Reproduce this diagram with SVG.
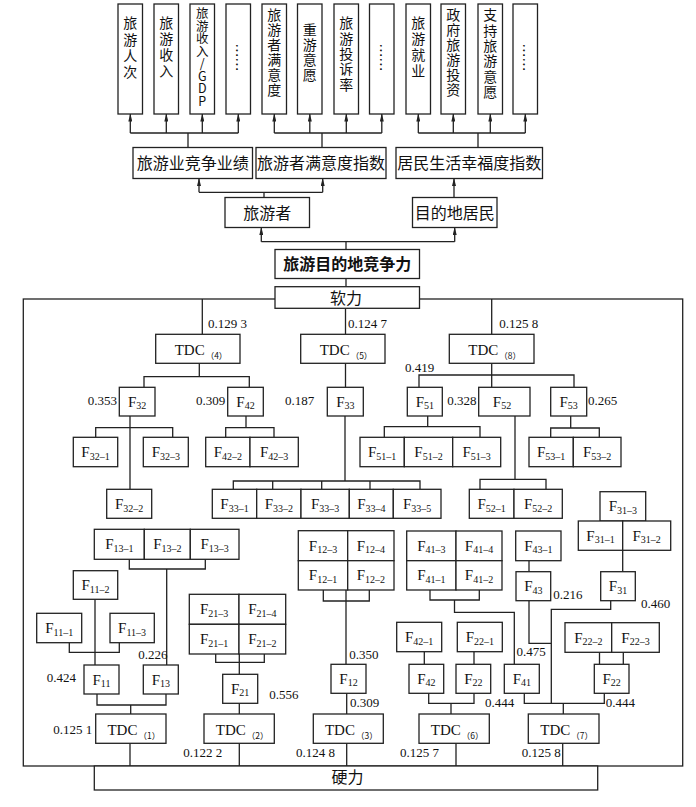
<svg xmlns="http://www.w3.org/2000/svg" width="696" height="807" viewBox="0 0 696 807">
<style>
.b{fill:#fff;stroke:#222;stroke-width:1.3}
.l{fill:none;stroke:#222;stroke-width:1.3}
.a{fill:none;stroke:#222;stroke-width:1.3;marker-end:url(#ar)}
.cn{font-family:"Noto Sans CJK SC",sans-serif;font-size:16px;fill:#111;text-anchor:middle}
.cv{font-family:"Noto Sans CJK SC",sans-serif;font-size:14px;fill:#111;writing-mode:vertical-rl;text-orientation:upright}
.dt{font-family:"Noto Sans CJK SC",sans-serif;font-size:14px;fill:#111;text-anchor:middle;dominant-baseline:central}
.f{font-family:"Liberation Serif",serif;font-size:15px;fill:#111;text-anchor:middle}
.s{font-size:10px}
.t{font-family:"Liberation Serif",serif;font-size:15px;fill:#111;text-anchor:middle}
.ts{font-family:"Noto Sans CJK SC",sans-serif;font-size:8.5px}
.n{font-family:"Liberation Serif",serif;font-size:13px;fill:#111}
</style>
<defs>
<marker id="ar" markerUnits="userSpaceOnUse" markerWidth="8" markerHeight="4" refX="7.5" refY="2" orient="auto"><path d="M0,0L8,2L0,4z" fill="#222"/></marker>
</defs>
<g id="connectors">
<rect class="l" x="23.3" y="299" width="659.4" height="467"/>
<path class="l" d="M130.3,133H238.3M188,133V147.5M274.3,133H381.8M322,133V147.5M418.3,133H525.3M478,133V147.5"/>
<path class="a" d="M130.3,133V114"/><path class="a" d="M166.3,133V114"/><path class="a" d="M202.3,133V114"/><path class="a" d="M238.3,133V114"/>
<path class="a" d="M274.3,133V114"/><path class="a" d="M309.8,133V114"/><path class="a" d="M346.3,133V114"/><path class="a" d="M381.8,133V114"/>
<path class="a" d="M418.3,133V114"/><path class="a" d="M453.3,133V114"/><path class="a" d="M490.3,133V114"/><path class="a" d="M525.3,133V114"/>
<path class="l" d="M199,192.3H322.7M264,192.3V197.5"/>
<path class="a" d="M199,192.3V178.5"/><path class="a" d="M322.7,192.3V178.5"/><path class="a" d="M454,197.5V178.5"/>
<path class="l" d="M261.3,241.7H454.7M346,241.7V249.5M346,278.5V286.7"/>
<path class="a" d="M261.3,241.7V227.5"/><path class="a" d="M454.7,241.7V227.5"/>
<path class="l" d="M202.3,299V334.3M345.5,308.3V334.3M491.7,299V334.3"/>
<path class="l" d="M199.3,363.3V376.7M144,387.3V376.7H249.3V387.3M130,416V489.3M95.7,437.3V427.7H172.7V437.3M246,416V427.7M225.7,437.3V427.7H274V437.3"/>
<path class="l" d="M345.5,363.3V387.3M345,416V481M233.3,489.3V481H420V489.3M272.7,481V489.3M321.7,481V489.3M370,481V489.3"/>
<path class="l" d="M491.7,363.3V387.3M419,387.3V375H574V387.3M427.7,416V426.7M384.3,437.3V426.7H480V437.3M570.7,416V428M550.7,437.3V428H599.3V437.3M515,416V479.3M480,489.3V479.3H546V489.3"/>
<path class="l" d="M622.7,550.3V571.7M610.7,600.7V609.3H551.3V703.3M529,560.7V571.7M529,600.7V643.3H551.3"/>
<path class="l" d="M430,590V600H479.3V590M454.5,600V612.3H514.3V664.3M424.3,651.7V664.3M474,651.7V664.3"/>
<path class="l" d="M428.7,693.3V703.3H474V693.3M451,703.3V714M456,743.3V766M524.3,693.3V703.3H604.3V693.3M563.3,703.3V714M562.7,743.3V766M599.5,652.3V664.3M623.3,652.3V664.3"/>
<path class="l" d="M323.3,590V601H369.3V590M346,590V664.3M346.7,693.3V714M346.7,743.3V766"/>
<path class="l" d="M129.3,559.3V569H205.3V559.3M166.7,569V665M95,599.3V665M69.3,642.7V652.3H119.3V642.7M97,694V705H166V694M130.7,705V714M130,743.3V766"/>
<path class="l" d="M215.7,654V662.3H264.3V654M239.3,654V674.3M239.3,703.3V714M239.3,743.3V766"/>
</g>
<g id="labels">
<text class="n" x="208" y="328">0.129 3</text>
<text class="n" x="348" y="328">0.124 7</text>
<text class="n" x="499.3" y="328">0.125 8</text>
<text class="n" x="405" y="371.5">0.419</text>
<text class="n" x="87.7" y="405">0.353</text>
<text class="n" x="196" y="405">0.309</text>
<text class="n" x="285" y="405">0.187</text>
<text class="n" x="447.3" y="405">0.328</text>
<text class="n" x="588" y="405">0.265</text>
<text class="n" x="553.3" y="599.3">0.216</text>
<text class="n" x="641" y="608">0.460</text>
<text class="n" x="516.5" y="656">0.475</text>
<text class="n" x="349.3" y="659">0.350</text>
<text class="n" x="138.3" y="659">0.226</text>
<text class="n" x="46.7" y="682">0.424</text>
<text class="n" x="269.3" y="699.3">0.556</text>
<text class="n" x="350" y="707">0.309</text>
<text class="n" x="485" y="707">0.444</text>
<text class="n" x="605.7" y="707">0.444</text>
<text class="n" x="53.3" y="734">0.125 1</text>
<text class="n" x="183.3" y="757">0.122 2</text>
<text class="n" x="296" y="757">0.124 8</text>
<text class="n" x="400" y="757">0.125 7</text>
<text class="n" x="521.7" y="757">0.125 8</text>
</g>
<g id="ind1"><rect class="b" x="118" y="4" width="24.5" height="110"/><text class="cv" x="130.3" y="16" letter-spacing="2.3">旅游人次</text></g>
<g id="ind2"><rect class="b" x="154" y="4" width="24.5" height="110"/><text class="cv" x="166.3" y="16" letter-spacing="2">旅游收入</text></g>
<g id="ind3"><rect class="b" x="190" y="4" width="24.5" height="110"/><text class="cv" x="202.3" y="7" style="font-size:12.5px">旅游收入/GDP</text></g>
<g id="ind4"><rect class="b" x="226" y="4" width="24.5" height="110"/><text class="dt" x="238.3" y="57.5" transform="rotate(90 238.3 57.5)">……</text></g>
<g id="ind5"><rect class="b" x="262" y="4" width="24.5" height="110"/><text class="cv" x="274.3" y="8" letter-spacing="1">旅游者满意度</text></g>
<g id="ind6"><rect class="b" x="297.5" y="4" width="24.5" height="110"/><text class="cv" x="309.8" y="22.5" letter-spacing="1">重游意愿</text></g>
<g id="ind7"><rect class="b" x="334" y="4" width="24.5" height="110"/><text class="cv" x="346.3" y="16" letter-spacing="1.3">旅游投诉率</text></g>
<g id="ind8"><rect class="b" x="369.5" y="4" width="24.5" height="110"/><text class="dt" x="381.8" y="57.5" transform="rotate(90 381.8 57.5)">……</text></g>
<g id="ind9"><rect class="b" x="406" y="4" width="24.5" height="110"/><text class="cv" x="418.3" y="16" letter-spacing="2">旅游就业</text></g>
<g id="ind10"><rect class="b" x="441" y="4" width="24.5" height="110"/><text class="cv" x="453.3" y="8" letter-spacing="1">政府旅游投资</text></g>
<g id="ind11"><rect class="b" x="478" y="4" width="24.5" height="110"/><text class="cv" x="490.3" y="8" letter-spacing="1.3">支持旅游意愿</text></g>
<g id="ind12"><rect class="b" x="513" y="4" width="24.5" height="110"/><text class="dt" x="525.3" y="57.5" transform="rotate(90 525.3 57.5)">……</text></g>
<g id="perf"><rect class="b" x="133" y="147.5" width="119.5" height="31"/><text class="cn" x="192.7" y="169.4">旅游业竞争业绩</text></g>
<g id="satis"><rect class="b" x="256" y="147.5" width="130" height="31"/><text class="cn" x="321" y="169.4">旅游者满意度指数</text></g>
<g id="happy"><rect class="b" x="396" y="147.5" width="146.5" height="31"/><text class="cn" x="469.2" y="169.4">居民生活幸福度指数</text></g>
<g id="tourist"><rect class="b" x="225" y="197.5" width="84.5" height="30"/><text class="cn" x="267.2" y="218.9">旅游者</text></g>
<g id="resident"><rect class="b" x="412.5" y="197.5" width="84.5" height="30"/><text class="cn" x="454.7" y="218.9">目的地居民</text></g>
<g id="tdc"><rect class="b" x="275" y="249.5" width="144.5" height="29"/><text class="cn" x="347.2" y="270.4" font-weight="bold">旅游目的地竞争力</text></g>
<g id="soft"><rect class="b" x="275" y="286.7" width="144.5" height="21.6"/><text class="cn" x="346" y="303.5">软力</text></g>
<g id="hard"><rect class="b" x="94.3" y="766" width="503.4" height="24"/><text class="cn" x="347.5" y="783.4">硬力</text></g>
<g id="TDC4"><rect class="b" x="155.7" y="334.3" width="84.3" height="29"/><text class="t" x="201" y="355">TDC<tspan class="ts" dx="1" dy="4">（4）</tspan></text></g>
<g id="TDC5"><rect class="b" x="300.7" y="334.3" width="84.3" height="29"/><text class="t" x="346" y="355">TDC<tspan class="ts" dx="1" dy="4">（5）</tspan></text></g>
<g id="TDC8"><rect class="b" x="449.3" y="334.3" width="84.7" height="29"/><text class="t" x="494.7" y="355">TDC<tspan class="ts" dx="1" dy="4">（8）</tspan></text></g>
<g id="TDC1"><rect class="b" x="95.7" y="714" width="70.3" height="29.3"/><text class="t" x="133.8" y="734.5">TDC<tspan class="ts" dx="1" dy="4">（1）</tspan></text></g>
<g id="TDC2"><rect class="b" x="204" y="714" width="70.3" height="29.3"/><text class="t" x="242.1" y="734.5">TDC<tspan class="ts" dx="1" dy="4">（2）</tspan></text></g>
<g id="TDC3"><rect class="b" x="313.3" y="714" width="70" height="29.3"/><text class="t" x="351.3" y="734.5">TDC<tspan class="ts" dx="1" dy="4">（3）</tspan></text></g>
<g id="TDC6"><rect class="b" x="419" y="714" width="70.3" height="29.3"/><text class="t" x="457.1" y="734.5">TDC<tspan class="ts" dx="1" dy="4">（6）</tspan></text></g>
<g id="TDC7"><rect class="b" x="528.3" y="714" width="70.7" height="29.3"/><text class="t" x="566.6" y="734.5">TDC<tspan class="ts" dx="1" dy="4">（7）</tspan></text></g>
<g id="F32"><rect class="b" x="119.3" y="387.3" width="35.7" height="28.7"/><text class="f" x="137.2" y="406.5">F<tspan class="s" dy="2.5">32</tspan></text></g>
<g id="F42a"><rect class="b" x="227.7" y="387.3" width="35.6" height="28.7"/><text class="f" x="245.5" y="406.5">F<tspan class="s" dy="2.5">42</tspan></text></g>
<g id="F33"><rect class="b" x="327.3" y="387.3" width="36" height="28.7"/><text class="f" x="345.3" y="406.5">F<tspan class="s" dy="2.5">33</tspan></text></g>
<g id="F51"><rect class="b" x="407.3" y="387.3" width="35" height="28.7"/><text class="f" x="424.8" y="406.5">F<tspan class="s" dy="2.5">51</tspan></text></g>
<g id="F52"><rect class="b" x="478.7" y="387.3" width="51.3" height="28.7"/><text class="f" x="502" y="406.5">F<tspan class="s" dy="2.5">52</tspan></text></g>
<g id="F53"><rect class="b" x="550.7" y="387.3" width="36" height="28.7"/><text class="f" x="568.7" y="406.5">F<tspan class="s" dy="2.5">53</tspan></text></g>
<g id="F32-1"><rect class="b" x="73.3" y="437.3" width="44.4" height="29.4"/><text class="f" x="95.5" y="457">F<tspan class="s" dy="2.5">32–1</tspan></text></g>
<g id="F32-3"><rect class="b" x="143.3" y="437.3" width="45" height="29.4"/><text class="f" x="165.8" y="457">F<tspan class="s" dy="2.5">32–3</tspan></text></g>
<g id="F32-2"><rect class="b" x="106.7" y="489.3" width="45" height="29"/><text class="f" x="129.2" y="509">F<tspan class="s" dy="2.5">32–2</tspan></text></g>
<g id="F42-2"><rect class="b" x="205.7" y="437.3" width="44.3" height="29.4"/><text class="f" x="227.8" y="457">F<tspan class="s" dy="2.5">42–2</tspan></text></g>
<g id="F42-3"><rect class="b" x="250" y="437.3" width="48.3" height="29.4"/><text class="f" x="274.1" y="457">F<tspan class="s" dy="2.5">42–3</tspan></text></g>
<g id="F33-1"><rect class="b" x="212.3" y="489.3" width="44.4" height="29"/><text class="f" x="234.5" y="509">F<tspan class="s" dy="2.5">33–1</tspan></text></g>
<g id="F33-2"><rect class="b" x="256.7" y="489.3" width="44.3" height="29"/><text class="f" x="278.8" y="509">F<tspan class="s" dy="2.5">33–2</tspan></text></g>
<g id="F33-3"><rect class="b" x="301" y="489.3" width="48.3" height="29"/><text class="f" x="325.1" y="509">F<tspan class="s" dy="2.5">33–3</tspan></text></g>
<g id="F33-4"><rect class="b" x="349.3" y="489.3" width="44" height="29"/><text class="f" x="371.3" y="509">F<tspan class="s" dy="2.5">33–4</tspan></text></g>
<g id="F33-5"><rect class="b" x="393.3" y="489.3" width="47.7" height="29"/><text class="f" x="417.1" y="509">F<tspan class="s" dy="2.5">33–5</tspan></text></g>
<g id="F51-1"><rect class="b" x="360" y="437.3" width="44.3" height="29.4"/><text class="f" x="382.1" y="457">F<tspan class="s" dy="2.5">51–1</tspan></text></g>
<g id="F51-2"><rect class="b" x="404.3" y="437.3" width="48.4" height="29.4"/><text class="f" x="428.5" y="457">F<tspan class="s" dy="2.5">51–2</tspan></text></g>
<g id="F51-3"><rect class="b" x="452.7" y="437.3" width="48" height="29.4"/><text class="f" x="476.7" y="457">F<tspan class="s" dy="2.5">51–3</tspan></text></g>
<g id="F53-1"><rect class="b" x="529" y="437.3" width="44.3" height="29.4"/><text class="f" x="551.1" y="457">F<tspan class="s" dy="2.5">53–1</tspan></text></g>
<g id="F53-2"><rect class="b" x="573.3" y="437.3" width="47.7" height="29.4"/><text class="f" x="597.1" y="457">F<tspan class="s" dy="2.5">53–2</tspan></text></g>
<g id="F52-1"><rect class="b" x="469.3" y="489.3" width="44.7" height="29"/><text class="f" x="491.6" y="509">F<tspan class="s" dy="2.5">52–1</tspan></text></g>
<g id="F52-2"><rect class="b" x="514" y="489.3" width="48.3" height="29"/><text class="f" x="538.1" y="509">F<tspan class="s" dy="2.5">52–2</tspan></text></g>
<g id="F31-3"><rect class="b" x="600" y="491.7" width="45.7" height="29.3"/><text class="f" x="622.8" y="511.3">F<tspan class="s" dy="2.5">31–3</tspan></text></g>
<g id="F31-1"><rect class="b" x="578.3" y="521" width="44.4" height="29.3"/><text class="f" x="600.5" y="540.6">F<tspan class="s" dy="2.5">31–1</tspan></text></g>
<g id="F31-2"><rect class="b" x="622.7" y="521" width="48" height="29.3"/><text class="f" x="646.7" y="540.6">F<tspan class="s" dy="2.5">31–2</tspan></text></g>
<g id="F31"><rect class="b" x="600.7" y="571.7" width="34.6" height="29"/><text class="f" x="618" y="591.2">F<tspan class="s" dy="2.5">31</tspan></text></g>
<g id="F43-1"><rect class="b" x="515.7" y="531" width="45.3" height="29.7"/><text class="f" x="538.3" y="550.8">F<tspan class="s" dy="2.5">43–1</tspan></text></g>
<g id="F43"><rect class="b" x="516" y="571.7" width="34.7" height="29"/><text class="f" x="533.3" y="591.2">F<tspan class="s" dy="2.5">43</tspan></text></g>
<g id="F41-3"><rect class="b" x="406.7" y="531" width="49.3" height="29.7"/><text class="f" x="431.3" y="550.8">F<tspan class="s" dy="2.5">41–3</tspan></text></g>
<g id="F41-4"><rect class="b" x="456" y="531" width="46" height="29.7"/><text class="f" x="479" y="550.8">F<tspan class="s" dy="2.5">41–4</tspan></text></g>
<g id="F41-1"><rect class="b" x="406.7" y="560.7" width="49.3" height="29.3"/><text class="f" x="431.3" y="580.3">F<tspan class="s" dy="2.5">41–1</tspan></text></g>
<g id="F41-2"><rect class="b" x="456" y="560.7" width="46" height="29.3"/><text class="f" x="479" y="580.3">F<tspan class="s" dy="2.5">41–2</tspan></text></g>
<g id="F41"><rect class="b" x="504.3" y="664.3" width="35" height="29"/><text class="f" x="521.8" y="683.8">F<tspan class="s" dy="2.5">41</tspan></text></g>
<g id="F42-1"><rect class="b" x="396.7" y="622.3" width="45" height="29.4"/><text class="f" x="419.2" y="642">F<tspan class="s" dy="2.5">42–1</tspan></text></g>
<g id="F42b"><rect class="b" x="409" y="664.3" width="34.7" height="29"/><text class="f" x="426.3" y="683.8">F<tspan class="s" dy="2.5">42</tspan></text></g>
<g id="F22-1"><rect class="b" x="457.3" y="622.3" width="45" height="29.4"/><text class="f" x="479.8" y="642">F<tspan class="s" dy="2.5">22–1</tspan></text></g>
<g id="F22a"><rect class="b" x="456" y="664.3" width="34.7" height="29"/><text class="f" x="473.3" y="683.8">F<tspan class="s" dy="2.5">22</tspan></text></g>
<g id="F22-2"><rect class="b" x="565" y="622.7" width="46.7" height="29.6"/><text class="f" x="588.3" y="642.5">F<tspan class="s" dy="2.5">22–2</tspan></text></g>
<g id="F22-3"><rect class="b" x="611.7" y="622.7" width="47.6" height="29.6"/><text class="f" x="635.5" y="642.5">F<tspan class="s" dy="2.5">22–3</tspan></text></g>
<g id="F22b"><rect class="b" x="594.3" y="664.3" width="34.7" height="29"/><text class="f" x="611.6" y="683.8">F<tspan class="s" dy="2.5">22</tspan></text></g>
<g id="F12-3"><rect class="b" x="298.3" y="530.7" width="49.4" height="30"/><text class="f" x="323" y="550.7">F<tspan class="s" dy="2.5">12–3</tspan></text></g>
<g id="F12-4"><rect class="b" x="347.7" y="530.7" width="46.3" height="30"/><text class="f" x="370.8" y="550.7">F<tspan class="s" dy="2.5">12–4</tspan></text></g>
<g id="F12-1"><rect class="b" x="298.3" y="560.7" width="49.4" height="29.3"/><text class="f" x="323" y="580.3">F<tspan class="s" dy="2.5">12–1</tspan></text></g>
<g id="F12-2"><rect class="b" x="347.7" y="560.7" width="46.3" height="29.3"/><text class="f" x="370.8" y="580.3">F<tspan class="s" dy="2.5">12–2</tspan></text></g>
<g id="F12"><rect class="b" x="331" y="664.3" width="35" height="29"/><text class="f" x="348.5" y="683.8">F<tspan class="s" dy="2.5">12</tspan></text></g>
<g id="F13-1"><rect class="b" x="94.3" y="529.3" width="50" height="30"/><text class="f" x="119.3" y="549.3">F<tspan class="s" dy="2.5">13–1</tspan></text></g>
<g id="F13-2"><rect class="b" x="144.3" y="529.3" width="46" height="30"/><text class="f" x="167.3" y="549.3">F<tspan class="s" dy="2.5">13–2</tspan></text></g>
<g id="F13-3"><rect class="b" x="190.3" y="529.3" width="48.7" height="30"/><text class="f" x="214.7" y="549.3">F<tspan class="s" dy="2.5">13–3</tspan></text></g>
<g id="F13"><rect class="b" x="143.3" y="665" width="35" height="29"/><text class="f" x="160.8" y="684.5">F<tspan class="s" dy="2.5">13</tspan></text></g>
<g id="F11-2"><rect class="b" x="73.3" y="570.7" width="44.4" height="28.6"/><text class="f" x="95.5" y="590">F<tspan class="s" dy="2.5">11–2</tspan></text></g>
<g id="F11-1"><rect class="b" x="36.7" y="613.3" width="45" height="29.4"/><text class="f" x="59.2" y="633">F<tspan class="s" dy="2.5">11–1</tspan></text></g>
<g id="F11-3"><rect class="b" x="110" y="613.3" width="44.3" height="29.4"/><text class="f" x="132.1" y="633">F<tspan class="s" dy="2.5">11–3</tspan></text></g>
<g id="F11"><rect class="b" x="84" y="665" width="35" height="29"/><text class="f" x="101.5" y="684.5">F<tspan class="s" dy="2.5">11</tspan></text></g>
<g id="F21-3"><rect class="b" x="189.3" y="594.3" width="49.7" height="30"/><text class="f" x="214.2" y="614.3">F<tspan class="s" dy="2.5">21–3</tspan></text></g>
<g id="F21-4"><rect class="b" x="239" y="594.3" width="46.7" height="30"/><text class="f" x="262.3" y="614.3">F<tspan class="s" dy="2.5">21–4</tspan></text></g>
<g id="F21-1"><rect class="b" x="189.3" y="624.3" width="49.7" height="29.7"/><text class="f" x="214.2" y="644.2">F<tspan class="s" dy="2.5">21–1</tspan></text></g>
<g id="F21-2"><rect class="b" x="239" y="624.3" width="46.7" height="29.7"/><text class="f" x="262.3" y="644.2">F<tspan class="s" dy="2.5">21–2</tspan></text></g>
<g id="F21"><rect class="b" x="222.7" y="674.3" width="35" height="29"/><text class="f" x="240.2" y="693.8">F<tspan class="s" dy="2.5">21</tspan></text></g>
</svg>
